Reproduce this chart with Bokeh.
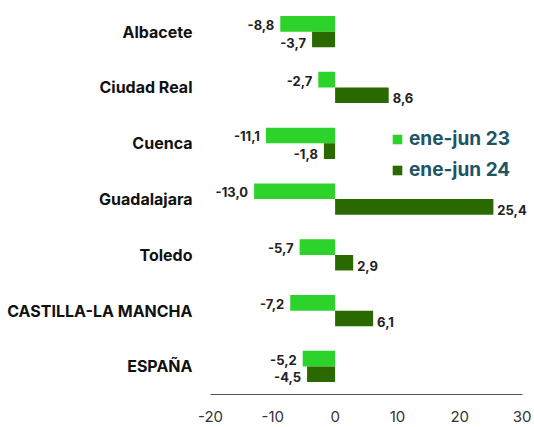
from bokeh.plotting import figure
from bokeh.models import ColumnDataSource, Range1d, FixedTicker, Legend, LegendItem
from bokeh.core.properties import value
from bokeh.embed import file_html
from bokeh.resources import INLINE

categories = ["Albacete", "Ciudad Real", "Cuenca", "Guadalajara", "Toledo", "CASTILLA-LA MANCHA", "ESPAÑA"]
v23 = [-8.8, -2.7, -11.1, -13.0, -5.7, -7.2, -5.2]
v24 = [-3.7, 8.6, -1.8, 25.4, 2.9, 6.1, -4.5]
series_names = ["ene-jun 23", "ene-jun 24"]
x_ticks = [-20, -10, 0, 10, 20, 30]

n = len(categories)
ypos = [n - 1 - i for i in range(n)]
off = 0.14
bh = 0.28

FONT = "Inter"
C23 = "#2DD22A"
C24 = "#2A6800"

p = figure(width=533, height=424, output_backend="svg", toolbar_location=None,
           x_range=Range1d(-20, 31.52), y_range=Range1d(-0.502, 6.559),
           min_border_left=210, min_border_right=2, min_border_top=0, min_border_bottom=30)
p.outline_line_color = None
p.grid.visible = False
p.background_fill_color = "white"

def fmt(v):
    return f"{v:.1f}".replace(".", ",")

def mk(vals, dy, yoff):
    return ColumnDataSource(dict(
        y=[y + dy for y in ypos], v=vals,
        lab=[fmt(v) for v in vals],
        align=["right" if v < 0 else "left" for v in vals],
        xo=[-6 if v < 0 else 4 for v in vals],
        yo=[yoff] * len(vals)))

s23 = mk(v23, off, 1)
s24 = mk(v24, -off, 3)

r23 = p.hbar(y="y", left=0, right="v", height=bh, source=s23, fill_color=C23, line_color=None)
r24 = p.hbar(y="y", left=0, right="v", height=bh, source=s24, fill_color=C24, line_color=None)

for s in (s23, s24):
    p.text(x="v", y="y", text="lab", source=s, text_align="align", text_baseline="middle",
           x_offset="xo", y_offset="yo", text_font=value(FONT), text_font_size="13px",
           text_color="#222222", text_font_style="bold")

p.xaxis.ticker = FixedTicker(ticks=x_ticks)
p.xaxis.bounds = (x_ticks[0], x_ticks[-1])
p.xaxis.major_label_overrides = {t: str(t) for t in x_ticks}
p.xaxis.major_tick_line_color = None
p.xaxis.minor_tick_line_color = None
p.xaxis.axis_line_color = "#555555"
p.xaxis.major_label_text_font = FONT
p.xaxis.major_label_text_font_size = "15px"
p.xaxis.major_label_text_color = "#333333"
p.xaxis.major_label_standoff = 10

p.yaxis.ticker = FixedTicker(ticks=ypos)
p.yaxis.major_label_overrides = {y: c for y, c in zip(ypos, categories)}
p.yaxis.axis_line_color = None
p.yaxis.major_tick_line_color = None
p.yaxis.minor_tick_line_color = None
p.yaxis.major_label_text_font = FONT
p.yaxis.major_label_text_font_style = "bold"
p.yaxis.major_label_text_font_size = "16px"
p.yaxis.major_label_text_color = "#111111"
p.yaxis.major_label_standoff = 12

legend = Legend(items=[LegendItem(label=series_names[0], renderers=[r23]),
                       LegendItem(label=series_names[1], renderers=[r24])],
                location=(181, 213), orientation="vertical")
legend.glyph_width = 12
legend.glyph_height = 12
legend.label_height = 20
legend.spacing = 8
legend.padding = 0
legend.margin = 0
legend.label_standoff = 6
legend.border_line_color = None
legend.background_fill_alpha = 0
legend.label_text_font = FONT
legend.label_text_font_size = "19px"
legend.label_text_font_style = "bold"
legend.label_text_color = "#1B5566"
p.add_layout(legend, "center")

open("out.html", "w").write(file_html(p, INLINE))
